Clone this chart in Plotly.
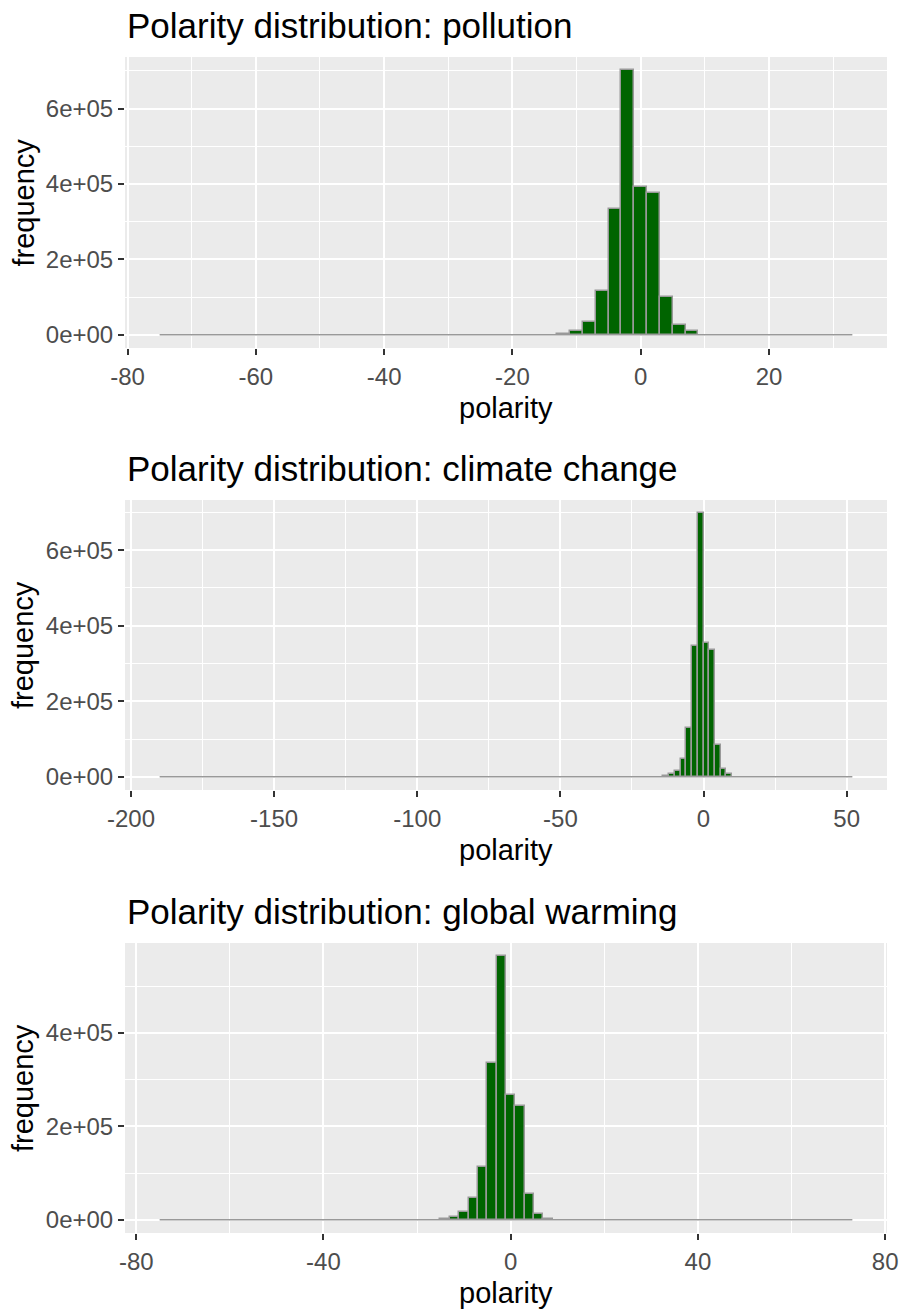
import plotly.graph_objects as go

W, H = 900, 1313

# ---------------- data ----------------
titles = ["Polarity distribution: pollution",
          "Polarity distribution: climate change",
          "Polarity distribution: global warming"]
bin_width = 2

pollution_centers = [-12, -10, -8, -6, -4, -2, 0, 2, 4, 6, 8]
pollution_counts = [2000, 10000, 35000, 115000, 335000, 702000, 393000, 375000, 100000, 27000, 10000]
pollution_range = [-75, 33]          # outer bin edges (zero-count bins fill the rest)

climate_centers = [-13, -11, -9, -7, -5, -3, -1, 1, 3, 5, 7, 9]
climate_counts = [1500, 6400, 15000, 46000, 130000, 346000, 698000, 355000, 335000, 84000, 20000, 6400]
climate_range = [-190, 52]

warming_centers = [-14, -12, -10, -8, -6, -4, -2, 0, 2, 4, 6, 8]
warming_counts = [2000, 5700, 16400, 45700, 114000, 336000, 564000, 267000, 244000, 55700, 12900, 2500]
warming_range = [-75, 73]

x_ticks = [[-80, -60, -40, -20, 0, 20],
           [-200, -150, -100, -50, 0, 50],
           [-80, -40, 0, 40, 80]]
x_ticktext = [["-80", "-60", "-40", "-20", "0", "20"],
              ["-200", "-150", "-100", "-50", "0", "50"],
              ["-80", "-40", "0", "40", "80"]]
x_minor = [10, 25, 20]
y_tickvals = [0, 200000, 400000, 600000]
y_ticktext = ["0e+00", "2e+05", "4e+05", "6e+05"]

panels = [(pollution_centers, pollution_counts, pollution_range),
          (climate_centers, climate_counts, climate_range),
          (warming_centers, warming_counts, warming_range)]

# ---------------- layout geometry (pixels) ----------------
px_left, px_right = 125, 887
panel_tb = [(57, 348), (500, 790), (943, 1233)]

FONT = "Liberation Sans, Arial, sans-serif"
fig = go.Figure()
annotations = []

for i, ((cx, cy, rng), (top, bot)) in enumerate(zip(panels, panel_tb)):
    n = i + 1
    xa = "x" if n == 1 else f"x{n}"
    ya = "y" if n == 1 else f"y{n}"
    # zero-count bins: outlined zero-height rectangles -> grey baseline
    fig.add_trace(go.Scatter(x=rng, y=[0, 0], xaxis=xa, yaxis=ya, mode="lines",
                             line=dict(color="#999999", width=1.5),
                             hoverinfo="skip", showlegend=False))
    fig.add_trace(go.Bar(x=cx, y=cy, width=bin_width, xaxis=xa, yaxis=ya,
                         marker=dict(color="#006400", line=dict(color="#999999", width=1.5)),
                         showlegend=False))
    span = rng[1] - rng[0]
    xr = [rng[0] - 0.05 * span, rng[1] + 0.05 * span]
    ymax = max(cy)
    yr = [-0.05 * ymax, 1.05 * ymax]
    ydom = [1 - bot / H, 1 - top / H]
    xdom = [px_left / W, px_right / W]
    yt = [v for v in y_tickvals if v <= yr[1]]
    ytt = [t for v, t in zip(y_tickvals, y_ticktext) if v <= yr[1]]
    axis_common = dict(showline=False, zeroline=False, gridcolor="white", gridwidth=2.2,
                       ticks="outside", ticklen=6, tickwidth=2, tickcolor="#333333",
                       automargin=False,
                       tickfont=dict(family=FONT, size=24, color="#4D4D4D"))
    fig.layout[("xaxis" if n == 1 else f"xaxis{n}")] = dict(
        domain=xdom, anchor=ya, range=xr, tickvals=x_ticks[i], ticktext=x_ticktext[i],
        ticklabelstandoff=1,
        minor=dict(dtick=x_minor[i], tick0=0, showgrid=True, gridcolor="white", gridwidth=1.1, ticks=""),
        **axis_common)
    fig.layout[("yaxis" if n == 1 else f"yaxis{n}")] = dict(
        domain=ydom, anchor=xa, range=yr, tickvals=yt, ticktext=ytt,
        minor=dict(dtick=100000, tick0=0, showgrid=True, gridcolor="white", gridwidth=1.1, ticks=""),
        **axis_common)
    # background
    fig.add_shape(type="rect", xref="paper", yref="paper", x0=xdom[0], x1=xdom[1],
                  y0=ydom[0], y1=ydom[1], fillcolor="#EBEBEB", line=dict(width=0), layer="below")
    # title
    annotations.append(dict(text=titles[i], x=px_left / W, xanchor="left", xref="paper",
                            y=1 - (top - 32) / H, yanchor="middle", yref="paper", showarrow=False,
                            font=dict(family=FONT, size=35, color="black")))
    # axis titles
    annotations.append(dict(text="polarity", x=(px_left + px_right) / 2 / W, xanchor="center", xref="paper",
                            y=1 - (bot + 60) / H, yanchor="middle", yref="paper", showarrow=False,
                            font=dict(family=FONT, size=29, color="black")))
    annotations.append(dict(text="frequency", x=23 / W, xanchor="center", xref="paper",
                            y=1 - (top + bot) / 2 / H, yanchor="middle", yref="paper", showarrow=False,
                            textangle=-90, font=dict(family=FONT, size=29, color="black")))

fig.update_layout(width=W, height=H, margin=dict(l=0, r=0, t=0, b=0, autoexpand=False),
                  paper_bgcolor="white", plot_bgcolor="rgba(0,0,0,0)",
                  bargap=0, annotations=annotations, font=dict(family=FONT))
fig.write_html("out.html")
